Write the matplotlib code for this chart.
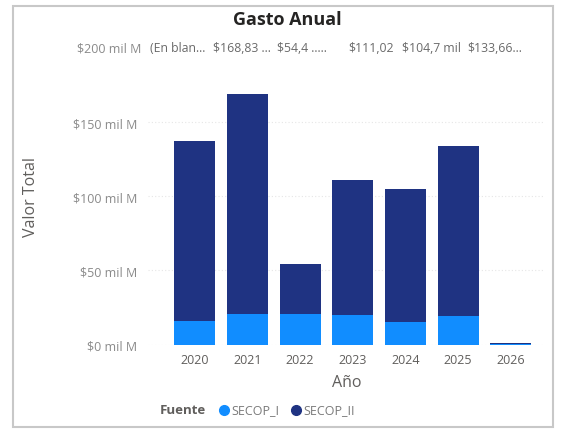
import matplotlib.pyplot as plt
from matplotlib.patches import Rectangle
from matplotlib.lines import Line2D

years = ['2020', '2021', '2022', '2023', '2024', '2025', '2026']
totales = [137.0, 168.83, 54.4, 111.02, 104.7, 133.66, 1.0]
secop_i = [15.8, 20.3, 20.7, 20.1, 15.1, 19.2, 0.5]
secop_ii = [t - s for t, s in zip(totales, secop_i)]
etiquetas = ['(En blan...', '$168,83 ...', '$54,4 .....', '$111,02', '$104,7 mil', '$133,66...']
yticks = [0, 50, 100, 150, 200]
ytick_labels = ['$0 mil M', '$50 mil M', '$100 mil M', '$150 mil M', '$200 mil M']

c1 = '#118DFF'
c2 = '#1F3382'
gris = '#605E5C'

plt.rcParams['font.family'] = ['Open Sans', 'DejaVu Sans']

fig = plt.figure(figsize=(5.61, 4.31), dpi=100)
ax = fig.add_axes([148 / 561, (431 - 345.5) / 431, 397 / 561, (345.5 - 49) / 431])

x = list(range(len(years)))
ax.bar(x, secop_i, width=0.78, color=c1, zorder=2)
ax.bar(x, secop_ii, width=0.78, bottom=secop_i, color=c2, zorder=2)

ax.set_xlim(-0.89, 6.65)
ax.set_ylim(0, 200)
ax.set_yticks(yticks[:-1])
ax.set_yticklabels(ytick_labels[:-1], fontsize=9, color='#8a8a8a')
ax.set_xticks(x)
ax.set_xticklabels(years, fontsize=9, color=gris)
ax.tick_params(length=0, pad=6)
ax.tick_params(axis='y', pad=8)
for s in ax.spines.values():
    s.set_visible(False)
ax.yaxis.grid(True, color='#e6e6e6', linestyle=(0, (1, 2)), linewidth=0.8, zorder=0)

# fila de etiquetas de total (truncadas) a la altura de $200
ax.text(-0.89, 200, ytick_labels[-1] + '  ', fontsize=9, color='#8a8a8a', ha='right', va='center',
        clip_on=False)
lefts_px = [150, 213, 277, 348, 402, 467]
for px, txt in zip(lefts_px, etiquetas):
    ax.text((px - 195) / 52.65, 200, txt, fontsize=8.8, color='#6a6a6a', ha='left', va='center',
            clip_on=False)

ax.set_ylabel('Valor Total', fontsize=11.5, color=gris, labelpad=24)
ax.set_xlabel('Año', fontsize=11.5, color=gris, labelpad=6)

fig.text(287 / 561, 1 - 20 / 431, 'Gasto Anual', fontsize=13, fontweight='bold',
         color='#252423', ha='center', va='center')

# leyenda
ly = 1 - 411 / 431
fig.text(160 / 561, ly, 'Fuente', fontsize=9.5, fontweight='bold', color=gris, va='center')
fig.add_artist(Line2D([224 / 561], [ly], marker='o', markersize=7, color=c1, transform=fig.transFigure))
fig.text(231 / 561, ly, 'SECOP_I', fontsize=9, color='#7a7a7a', va='center')
fig.add_artist(Line2D([296 / 561], [ly], marker='o', markersize=7, color=c2, transform=fig.transFigure))
fig.text(303 / 561, ly, 'SECOP_II', fontsize=9, color='#7a7a7a', va='center')

# borde del visual
fig.add_artist(Rectangle((13 / 561, 1 - 428 / 431), 540 / 561, 421 / 431, transform=fig.transFigure,
                         fill=False, edgecolor='#c8c8c8', linewidth=1.5))

fig.savefig('out.png', dpi=100)
